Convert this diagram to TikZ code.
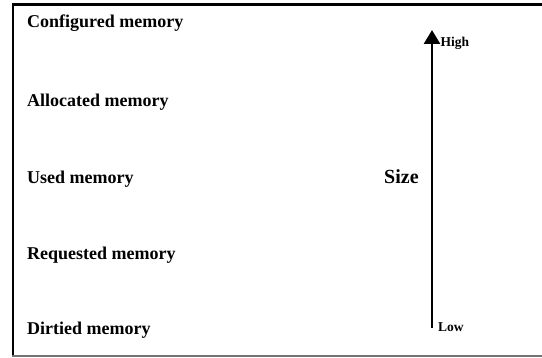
\documentclass[tikz,border=0pt]{standalone}
\usepackage{fontspec}
\setmainfont{Liberation Serif}
\usetikzlibrary{arrows.meta}
\begin{document}
\begin{tikzpicture}[x=1pt,y=1pt,
  lvl/.style={anchor=base west,inner sep=0pt,font=\fontsize{18}{21}\selectfont\bfseries},
  endlbl/.style={anchor=base west,inner sep=0pt,font=\fontsize{13.5}{15}\selectfont\bfseries},
  frame/.style={line width=2.4pt}]
\useasboundingbox (0,0) rectangle (542,357);
% open frame: left, top and bottom edges
\draw[frame] (542,352.5) -- (13,352.5) -- (13,1);
\draw[line width=1.6pt,black!55] (11.8,1) -- (542,1);
% memory levels
\node[lvl] (conf) at (27,329.5) {Configured memory};
\node[lvl] (alloc) at (27,251) {Allocated memory};
\node[lvl] (used) at (27,173) {Used memory};
\node[lvl] (req) at (27,98) {Requested memory};
\node[lvl] (dirt) at (27,23) {Dirtied memory};
\node[lvl,font=\fontsize{20}{23}\selectfont\bfseries] (size) at (384,173) {Size};
% size axis
\coordinate (lo) at (432,29);
\coordinate (hi) at (432,327);
\draw[line width=2.6pt,-{Triangle[length=14pt,width=16pt]}] (lo) -- (hi);
\node[endlbl] (high) at (440.5,310) {High};
\node[endlbl] (low) at (438,26) {Low};
\end{tikzpicture}
\end{document}
